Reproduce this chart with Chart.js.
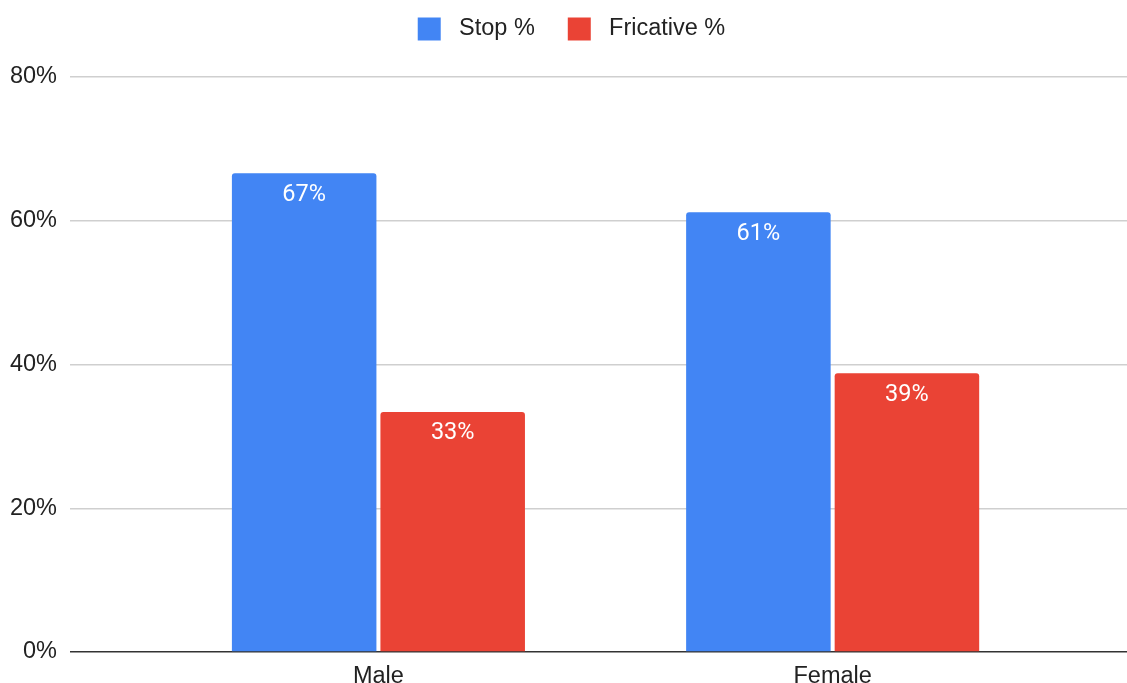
<!DOCTYPE html>
<html>
<head>
<meta charset="utf-8">
<script src="https://cdn.jsdelivr.net/npm/chart.js@4"></script>
<style>
  html, body { margin: 0; padding: 0; background: #fff; }
  #wrap { width: 1127px; height: 683px; }
</style>
</head>
<body>
<div id="wrap"><canvas id="chart"></canvas></div>
<script>
// share of each consonant type per speaker group
const categories = ["Male", "Female"];
const stopPct = [66.6, 61.2];
const fricativePct = [33.4, 38.8];
const yTicks = [0, 20, 40, 60, 80];

const BLUE = "#4285f4";
const RED = "#ea4335";
const AXIS_FONT = "'Liberation Sans', Arial, Helvetica, sans-serif";

// rounded percentages printed inside the top of every bar
const barLabels = {
  id: "barLabels",
  afterDatasetsDraw(chart) {
    const { ctx } = chart;
    ctx.save();
    ctx.font = "23.5px Roboto, 'Liberation Sans', sans-serif";
    ctx.fillStyle = "#ffffff";
    ctx.textAlign = "center";
    ctx.textBaseline = "middle";
    chart.data.datasets.forEach((ds, i) => {
      chart.getDatasetMeta(i).data.forEach((bar, j) => {
        ctx.fillText(Math.round(ds.data[j].y) + "%", bar.x, bar.y + 21.5);
      });
    });
    ctx.restore();
  },
};

// leave room between legend and plot, nudge legend a bit right
const legendGap = {
  id: "legendGap",
  beforeInit(chart) {
    const fit = chart.legend.fit;
    chart.legend.fit = function () {
      fit.call(this);
      this.height = 92.75;
    };
  },
  afterLayout(chart) {
    chart.legend.left += 8;
    chart.legend.right += 8;
  },
};

new Chart(document.getElementById("chart"), {
  type: "bar",
  data: {
    datasets: [
      {
        label: "Stop %",
        data: stopPct.map((v, i) => ({ x: i, y: v })),
        backgroundColor: BLUE,
        borderRadius: { topLeft: 3, topRight: 3 },
        borderSkipped: "bottom",
      },
      {
        label: "Fricative %",
        data: fricativePct.map((v, i) => ({ x: i, y: v })),
        backgroundColor: RED,
        borderRadius: { topLeft: 3, topRight: 3 },
        borderSkipped: "bottom",
      },
    ],
  },
  plugins: [barLabels, legendGap],
  options: {
    responsive: true,
    maintainAspectRatio: false,
    animation: false,
    categoryPercentage: 0.654,
    barPercentage: 0.973,
    layout: { padding: { top: -15.75, left: 0, right: 0, bottom: 0 } },
    plugins: {
      tooltip: { enabled: false },
      legend: {
        display: true,
        position: "top",
        labels: {
          boxWidth: 23,
          boxHeight: 23,
          padding: 33,
          color: "#222",
          font: { family: AXIS_FONT, size: 23.5 },
          generateLabels(chart) {
            const items = Chart.defaults.plugins.legend.labels.generateLabels(chart);
            items.forEach((it) => (it.text = " " + it.text));
            return items;
          },
        },
      },
    },
    scales: {
      x: {
        type: "linear",
        offset: false,
        min: -0.679,
        max: 1.648,
        afterBuildTicks(scale) {
          scale.ticks = categories.map((_, i) => ({ value: i }));
        },
        afterFit(scale) {
          scale.height = 31;
        },
        grid: { display: false, drawTicks: false },
        border: { display: false },
        ticks: {
          padding: 10,
          maxRotation: 0,
          autoSkip: false,
          color: "#222",
          font: { family: AXIS_FONT, size: 23.5 },
          callback: (v) => categories[v],
        },
      },
      y: {
        min: 0,
        max: 80,
        afterBuildTicks(scale) {
          scale.ticks = yTicks.map((v) => ({ value: v }));
        },
        afterFit(scale) {
          scale.width = 70;
        },
        border: { display: false },
        grid: {
          drawTicks: false,
          lineWidth: 1.5,
          color: (ctx) => (ctx.tick && ctx.tick.value === 0 ? "#333" : "#cfcfcf"),
        },
        ticks: {
          padding: 13,
          color: "#222",
          font: { family: AXIS_FONT, size: 23.5 },
          callback: (v) => v + "%",
        },
      },
    },
  },
});
</script>
</body>
</html>
